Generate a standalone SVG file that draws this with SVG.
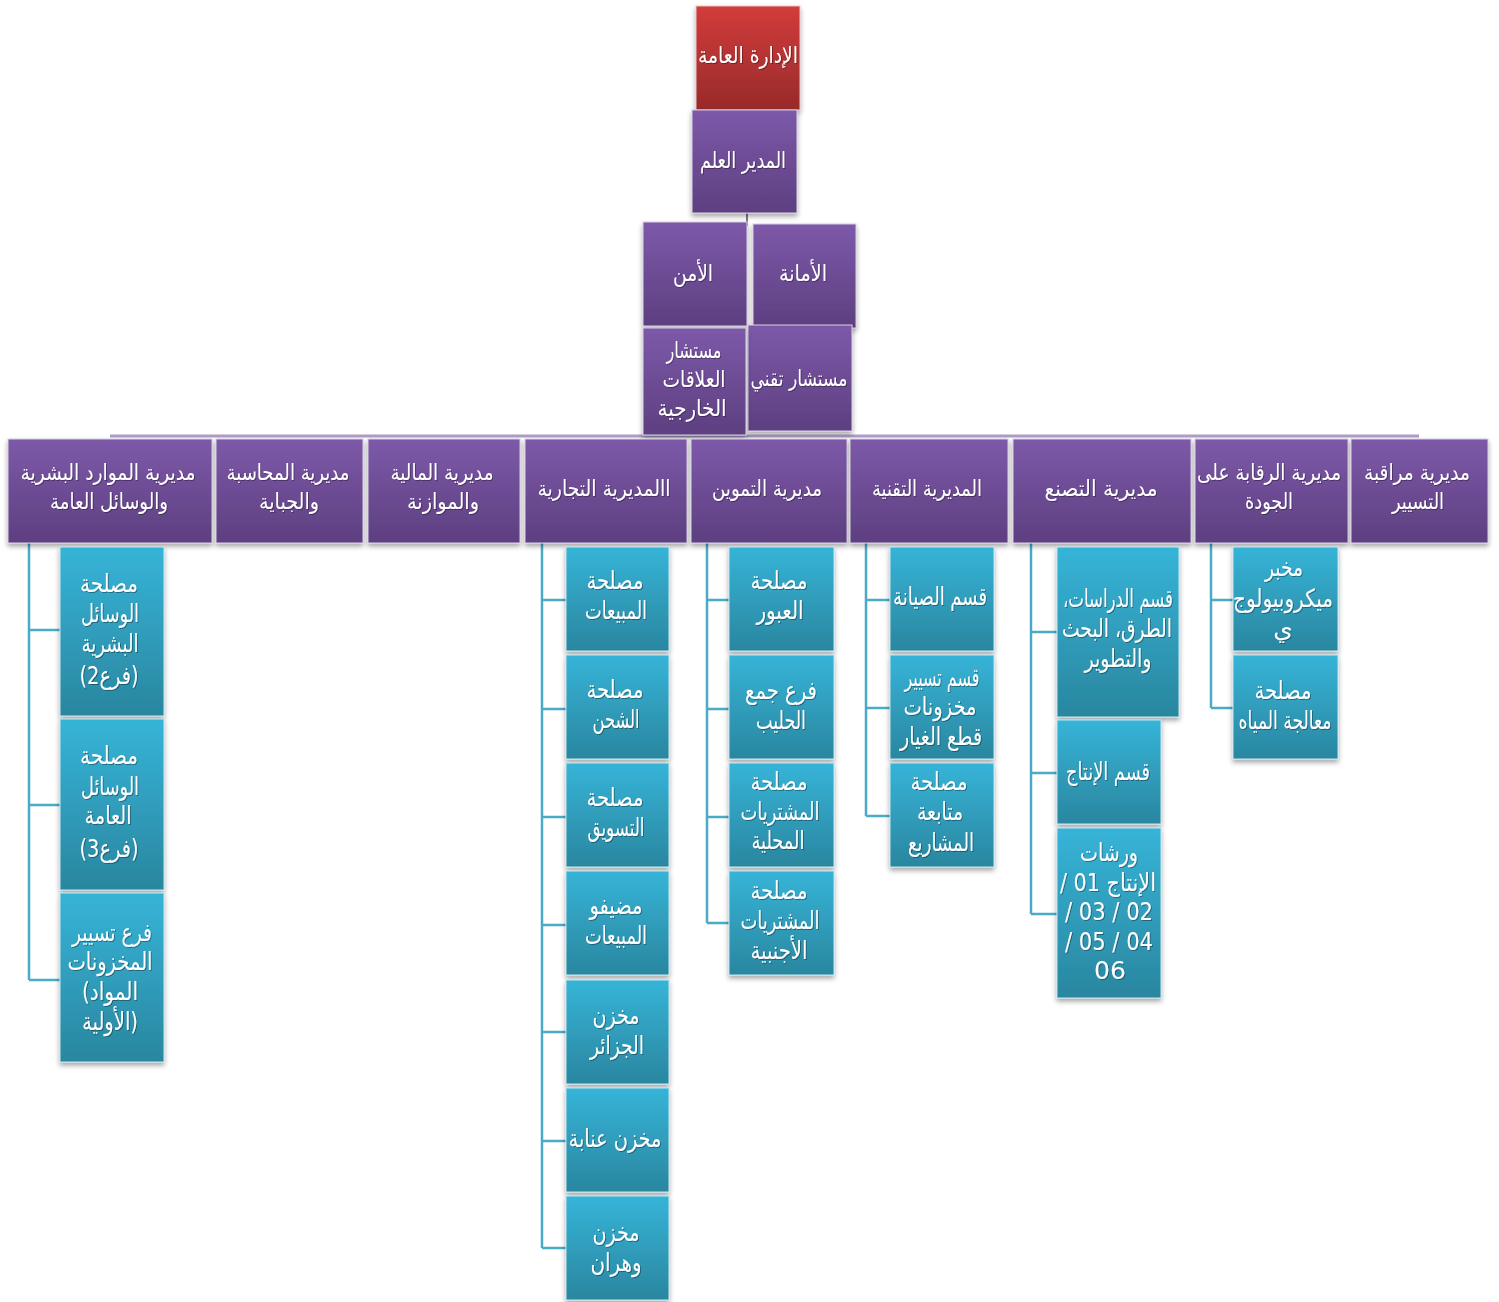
<svg xmlns="http://www.w3.org/2000/svg" width="1499" height="1302" viewBox="0 0 1499 1302">
  <style>
    text { font-family: "DejaVu Sans", "Noto Sans", sans-serif; fill: #ffffff; text-anchor: middle; dominant-baseline: central; direction: rtl; }
    .t1 { font-size: 23px; }
    .t2 { font-size: 22px; }
    .t3 { font-size: 25px; }
    .ltr { direction: ltr; }
    .purple { fill: url(#gPurple); stroke: #d8d0e4; stroke-width: 1; filter: url(#shadow); }
    .teal { fill: url(#gTeal); stroke: #c4e6ef; stroke-width: 1; filter: url(#shadow); }
    .red { fill: url(#gRed); stroke: #e8c8c8; stroke-width: 1; filter: url(#shadow); }
    .bar { fill: none; stroke: #ad9cc8; stroke-width: 3; }
    .stem { fill: none; stroke: #5a4a6e; stroke-width: 1.5; }
    .link { fill: none; stroke: #4aabc7; stroke-width: 2.5; }
    .labels { filter: url(#txtShadow); }
  </style>
  <defs>
    <linearGradient id="gPurple" x1="0" y1="0" x2="0" y2="1">
      <stop offset="0" stop-color="#7d59a9"/>
      <stop offset="1" stop-color="#5d3f80"/>
    </linearGradient>
    <linearGradient id="gTeal" x1="0" y1="0" x2="0" y2="1">
      <stop offset="0" stop-color="#36b4d8"/>
      <stop offset="1" stop-color="#2a869f"/>
    </linearGradient>
    <linearGradient id="gRed" x1="0" y1="0" x2="0" y2="1">
      <stop offset="0" stop-color="#d23c3b"/>
      <stop offset="1" stop-color="#982a2a"/>
    </linearGradient>
    <filter id="shadow" x="-10%" y="-10%" width="125%" height="130%">
      <feDropShadow dx="0" dy="3" stdDeviation="2.5" flood-color="#000" flood-opacity="0.35"/>
    </filter>
    <filter id="txtShadow" x="-5%" y="-5%" width="110%" height="110%">
      <feDropShadow dx="1" dy="1" stdDeviation="0.7" flood-color="#000" flood-opacity="0.35"/>
    </filter>
  </defs>

  <!-- connectors -->
  <g id="connectors">
    <line class="stem" x1="747" y1="213" x2="747" y2="226"/>
    <line class="bar" x1="110" y1="436" x2="1419" y2="436"/>
    <!-- human resources -->
    <path class="link" d="M29 543 V980 M29 630 H60 M29 805 H60 M29 980 H60"/>
    <!-- commercial -->
    <path class="link" d="M542 543 V1248 M542 600 H566 M542 709 H566 M542 817 H566 M542 925 H566 M542 1032 H566 M542 1141 H566 M542 1248 H566"/>
    <!-- supply -->
    <path class="link" d="M707 543 V923 M707 600 H729 M707 709 H729 M707 817 H729 M707 923 H729"/>
    <!-- technical -->
    <path class="link" d="M866 543 V816 M866 600 H890 M866 708 H890 M866 816 H890"/>
    <!-- manufacturing -->
    <path class="link" d="M1031 543 V914 M1031 632 H1057 M1031 773 H1057 M1031 914 H1057"/>
    <!-- quality -->
    <path class="link" d="M1211 543 V708 M1211 600 H1233 M1211 708 H1233"/>
  </g>

  <!-- top -->
  <g id="n-general-admin"><rect class="red" x="696" y="6" width="104" height="104"/><g class="labels">
    <text class="t1" x="748" y="55" textLength="100" lengthAdjust="spacingAndGlyphs">الإدارة العامة</text></g></g>
  <g id="n-director"><rect class="purple" x="692" y="110" width="105" height="103"/><g class="labels">
    <text class="t1" x="743" y="160" textLength="86" lengthAdjust="spacingAndGlyphs">المدير العلم</text></g></g>
  <g id="n-security"><rect class="purple" x="643" y="222" width="104" height="104"/><g class="labels">
    <text class="t1" x="693" y="273" textLength="40" lengthAdjust="spacingAndGlyphs">الأمن</text></g></g>
  <g id="n-secretariat"><rect class="purple" x="753" y="224" width="103" height="104"/><g class="labels">
    <text class="t1" x="803" y="273" textLength="48" lengthAdjust="spacingAndGlyphs">الأمانة</text></g></g>
  <g id="n-tech-advisor"><rect class="purple" x="748" y="325" width="104" height="106"/><g class="labels">
    <text class="t2" x="799" y="378" textLength="97" lengthAdjust="spacingAndGlyphs">مستشار تقني</text></g></g>
  <g id="n-relations-advisor"><rect class="purple" x="643" y="328" width="103" height="107"/><g class="labels">
    <text class="t1" x="694" y="350" textLength="55" lengthAdjust="spacingAndGlyphs">مستشار</text>
    <text class="t1" x="694" y="379" textLength="63" lengthAdjust="spacingAndGlyphs">العلاقات</text>
    <text class="t1" x="692" y="408" textLength="69" lengthAdjust="spacingAndGlyphs">الخارجية</text></g></g>

  <!-- directorates -->
  <g id="n-hr"><rect class="purple" x="8" y="439" width="204" height="104"/><g class="labels">
    <text class="t2" x="108" y="472" textLength="175" lengthAdjust="spacingAndGlyphs">مديرية الموارد البشرية</text>
    <text class="t2" x="109" y="501" textLength="118" lengthAdjust="spacingAndGlyphs">والوسائل العامة</text></g></g>
  <g id="n-accounting"><rect class="purple" x="216" y="439" width="147" height="104"/><g class="labels">
    <text class="t2" x="288" y="472" textLength="123" lengthAdjust="spacingAndGlyphs">مديرية المحاسبة</text>
    <text class="t2" x="289" y="501" textLength="60" lengthAdjust="spacingAndGlyphs">والجباية</text></g></g>
  <g id="n-finance"><rect class="purple" x="368" y="439" width="152" height="104"/><g class="labels">
    <text class="t2" x="442" y="472" textLength="103" lengthAdjust="spacingAndGlyphs">مديرية المالية</text>
    <text class="t2" x="443" y="501" textLength="72" lengthAdjust="spacingAndGlyphs">والموازنة</text></g></g>
  <g id="n-commercial"><rect class="purple" x="525" y="439" width="162" height="104"/><g class="labels">
    <text class="t2" x="604" y="488" textLength="133" lengthAdjust="spacingAndGlyphs">االمديرية التجارية</text></g></g>
  <g id="n-supply"><rect class="purple" x="691" y="439" width="156" height="104"/><g class="labels">
    <text class="t2" x="767" y="488" textLength="110" lengthAdjust="spacingAndGlyphs">مديرية التموين</text></g></g>
  <g id="n-technical"><rect class="purple" x="850" y="439" width="158" height="104"/><g class="labels">
    <text class="t2" x="927" y="488" textLength="110" lengthAdjust="spacingAndGlyphs">المديرية التقنية</text></g></g>
  <g id="n-manufacturing"><rect class="purple" x="1013" y="439" width="178" height="104"/><g class="labels">
    <text class="t2" x="1101" y="488" textLength="113" lengthAdjust="spacingAndGlyphs">مديرية التصنع</text></g></g>
  <g id="n-quality"><rect class="purple" x="1195" y="439" width="153" height="104"/><g class="labels">
    <text class="t2" x="1269" y="472" textLength="144" lengthAdjust="spacingAndGlyphs">مديرية الرقابة على</text>
    <text class="t2" x="1269" y="501" textLength="48" lengthAdjust="spacingAndGlyphs">الجودة</text></g></g>
  <g id="n-control"><rect class="purple" x="1351" y="439" width="137" height="104"/><g class="labels">
    <text class="t2" x="1417" y="472" textLength="106" lengthAdjust="spacingAndGlyphs">مديرية مراقبة</text>
    <text class="t2" x="1418" y="501" textLength="52" lengthAdjust="spacingAndGlyphs">التسيير</text></g></g>

  <!-- human resources units -->
  <g id="n-hr-1"><rect class="teal" x="60" y="547" width="104" height="169"/><g class="labels">
    <text class="t3" x="109" y="583" textLength="58" lengthAdjust="spacingAndGlyphs">مصلحة</text>
    <text class="t3" x="110" y="613" textLength="58" lengthAdjust="spacingAndGlyphs">الوسائل</text>
    <text class="t3" x="110" y="643" textLength="57" lengthAdjust="spacingAndGlyphs">البشرية</text>
    <text class="t3" x="109" y="675" textLength="59" lengthAdjust="spacingAndGlyphs">(فرع2)</text></g></g>
  <g id="n-hr-2"><rect class="teal" x="60" y="719" width="104" height="171"/><g class="labels">
    <text class="t3" x="109" y="755" textLength="58" lengthAdjust="spacingAndGlyphs">مصلحة</text>
    <text class="t3" x="110" y="786" textLength="58" lengthAdjust="spacingAndGlyphs">الوسائل</text>
    <text class="t3" x="108" y="815" textLength="47" lengthAdjust="spacingAndGlyphs">العامة</text>
    <text class="t3" x="109" y="848" textLength="59" lengthAdjust="spacingAndGlyphs">(فرع3)</text></g></g>
  <g id="n-hr-3"><rect class="teal" x="60" y="893" width="104" height="169"/><g class="labels">
    <text class="t3" x="112" y="932" textLength="80" lengthAdjust="spacingAndGlyphs">فرع تسيير</text>
    <text class="t3" x="110" y="961" textLength="85" lengthAdjust="spacingAndGlyphs">المخزونات</text>
    <text class="t3 ltr" x="110" y="991" textLength="56" lengthAdjust="spacingAndGlyphs">&#x202A;(المواد&#x202C;</text>
    <text class="t3 ltr" x="110" y="1021" textLength="56" lengthAdjust="spacingAndGlyphs">&#x202A;الأولية)&#x202C;</text></g></g>

  <!-- commercial units -->
  <g id="n-com-1"><rect class="teal" x="566" y="547" width="103" height="104"/><g class="labels">
    <text class="t3" x="615" y="580" textLength="57" lengthAdjust="spacingAndGlyphs">مصلحة</text>
    <text class="t3" x="616" y="610" textLength="62" lengthAdjust="spacingAndGlyphs">المبيعات</text></g></g>
  <g id="n-com-2"><rect class="teal" x="566" y="655" width="103" height="104"/><g class="labels">
    <text class="t3" x="615" y="689" textLength="57" lengthAdjust="spacingAndGlyphs">مصلحة</text>
    <text class="t3" x="616" y="719" textLength="47" lengthAdjust="spacingAndGlyphs">الشحن</text></g></g>
  <g id="n-com-3"><rect class="teal" x="566" y="763" width="103" height="104"/><g class="labels">
    <text class="t3" x="615" y="797" textLength="57" lengthAdjust="spacingAndGlyphs">مصلحة</text>
    <text class="t3" x="616" y="827" textLength="57" lengthAdjust="spacingAndGlyphs">التسويق</text></g></g>
  <g id="n-com-4"><rect class="teal" x="566" y="871" width="103" height="104"/><g class="labels">
    <text class="t3" x="616" y="905" textLength="53" lengthAdjust="spacingAndGlyphs">مضيفو</text>
    <text class="t3" x="616" y="935" textLength="62" lengthAdjust="spacingAndGlyphs">المبيعات</text></g></g>
  <g id="n-com-5"><rect class="teal" x="566" y="980" width="103" height="104"/><g class="labels">
    <text class="t3" x="616" y="1015" textLength="47" lengthAdjust="spacingAndGlyphs">مخزن</text>
    <text class="t3" x="617" y="1045" textLength="54" lengthAdjust="spacingAndGlyphs">الجزائر</text></g></g>
  <g id="n-com-6"><rect class="teal" x="566" y="1088" width="103" height="104"/><g class="labels">
    <text class="t3" x="615" y="1138" textLength="93" lengthAdjust="spacingAndGlyphs">مخزن عنابة</text></g></g>
  <g id="n-com-7"><rect class="teal" x="566" y="1196" width="103" height="104"/><g class="labels">
    <text class="t3" x="616" y="1232" textLength="47" lengthAdjust="spacingAndGlyphs">مخزن</text>
    <text class="t3" x="616" y="1262" textLength="51" lengthAdjust="spacingAndGlyphs">وهران</text></g></g>

  <!-- supply units -->
  <g id="n-sup-1"><rect class="teal" x="729" y="547" width="105" height="104"/><g class="labels">
    <text class="t3" x="779" y="580" textLength="57" lengthAdjust="spacingAndGlyphs">مصلحة</text>
    <text class="t3" x="780" y="610" textLength="47" lengthAdjust="spacingAndGlyphs">العبور</text></g></g>
  <g id="n-sup-2"><rect class="teal" x="729" y="655" width="105" height="104"/><g class="labels">
    <text class="t3" x="781" y="690" textLength="72" lengthAdjust="spacingAndGlyphs">فرع جمع</text>
    <text class="t3" x="781" y="720" textLength="50" lengthAdjust="spacingAndGlyphs">الحليب</text></g></g>
  <g id="n-sup-3"><rect class="teal" x="729" y="763" width="105" height="104"/><g class="labels">
    <text class="t3" x="779" y="781" textLength="57" lengthAdjust="spacingAndGlyphs">مصلحة</text>
    <text class="t3" x="780" y="811" textLength="79" lengthAdjust="spacingAndGlyphs">المشتريات</text>
    <text class="t3" x="778" y="840" textLength="53" lengthAdjust="spacingAndGlyphs">المحلية</text></g></g>
  <g id="n-sup-4"><rect class="teal" x="729" y="871" width="105" height="104"/><g class="labels">
    <text class="t3" x="779" y="890" textLength="57" lengthAdjust="spacingAndGlyphs">مصلحة</text>
    <text class="t3" x="780" y="920" textLength="79" lengthAdjust="spacingAndGlyphs">المشتريات</text>
    <text class="t3" x="779" y="950" textLength="57" lengthAdjust="spacingAndGlyphs">الأجنبية</text></g></g>

  <!-- technical units -->
  <g id="n-tech-1"><rect class="teal" x="890" y="547" width="104" height="104"/><g class="labels">
    <text class="t3" x="940" y="596" textLength="94" lengthAdjust="spacingAndGlyphs">قسم الصيانة</text></g></g>
  <g id="n-tech-2"><rect class="teal" x="890" y="655" width="104" height="104"/><g class="labels">
    <text class="t3" x="942" y="677" textLength="75" lengthAdjust="spacingAndGlyphs">قسم تسيير</text>
    <text class="t3" x="940" y="706" textLength="73" lengthAdjust="spacingAndGlyphs">مخزونات</text>
    <text class="t3" x="941" y="736" textLength="82" lengthAdjust="spacingAndGlyphs">قطع الغيار</text></g></g>
  <g id="n-tech-3"><rect class="teal" x="890" y="763" width="104" height="104"/><g class="labels">
    <text class="t3" x="939" y="781" textLength="57" lengthAdjust="spacingAndGlyphs">مصلحة</text>
    <text class="t3" x="940" y="811" textLength="46" lengthAdjust="spacingAndGlyphs">متابعة</text>
    <text class="t3" x="941" y="842" textLength="66" lengthAdjust="spacingAndGlyphs">المشاريع</text></g></g>

  <!-- manufacturing units -->
  <g id="n-man-1"><rect class="teal" x="1057" y="547" width="122" height="170"/><g class="labels">
    <text class="t3" x="1118" y="598" textLength="110" lengthAdjust="spacingAndGlyphs">قسم الدراسات،</text>
    <text class="t3" x="1117" y="628" textLength="110" lengthAdjust="spacingAndGlyphs">الطرق، البحث</text>
    <text class="t3" x="1118" y="658" textLength="67" lengthAdjust="spacingAndGlyphs">والتطوير</text></g></g>
  <g id="n-man-2"><rect class="teal" x="1057" y="720" width="104" height="104"/><g class="labels">
    <text class="t3" x="1108" y="771" textLength="84" lengthAdjust="spacingAndGlyphs">قسم الإنتاج</text></g></g>
  <g id="n-man-3"><rect class="teal" x="1057" y="828" width="104" height="170"/><g class="labels">
    <text class="t3" x="1109" y="852" textLength="58" lengthAdjust="spacingAndGlyphs">ورشات</text>
    <text class="t3" x="1108" y="882" textLength="96" lengthAdjust="spacingAndGlyphs">الإنتاج 01 /</text>
    <text class="t3" x="1109" y="911" textLength="88" lengthAdjust="spacingAndGlyphs">02 / 03 /</text>
    <text class="t3" x="1109" y="941" textLength="88" lengthAdjust="spacingAndGlyphs">04 / 05 /</text>
    <text class="t3" x="1110" y="970">06</text></g></g>

  <!-- quality units -->
  <g id="n-qual-1"><rect class="teal" x="1233" y="547" width="105" height="104"/><g class="labels">
    <text class="t3" x="1284" y="567" textLength="38" lengthAdjust="spacingAndGlyphs">مخبر</text>
    <text class="t3" x="1283" y="598" textLength="100" lengthAdjust="spacingAndGlyphs">ميكروبيولوج</text>
    <text class="t3" x="1283" y="628">ي</text></g></g>
  <g id="n-qual-2"><rect class="teal" x="1233" y="655" width="105" height="104"/><g class="labels">
    <text class="t3" x="1283" y="690" textLength="57" lengthAdjust="spacingAndGlyphs">مصلحة</text>
    <text class="t3" x="1285" y="720" textLength="93" lengthAdjust="spacingAndGlyphs">معالجة المياه</text></g></g>
</svg>
